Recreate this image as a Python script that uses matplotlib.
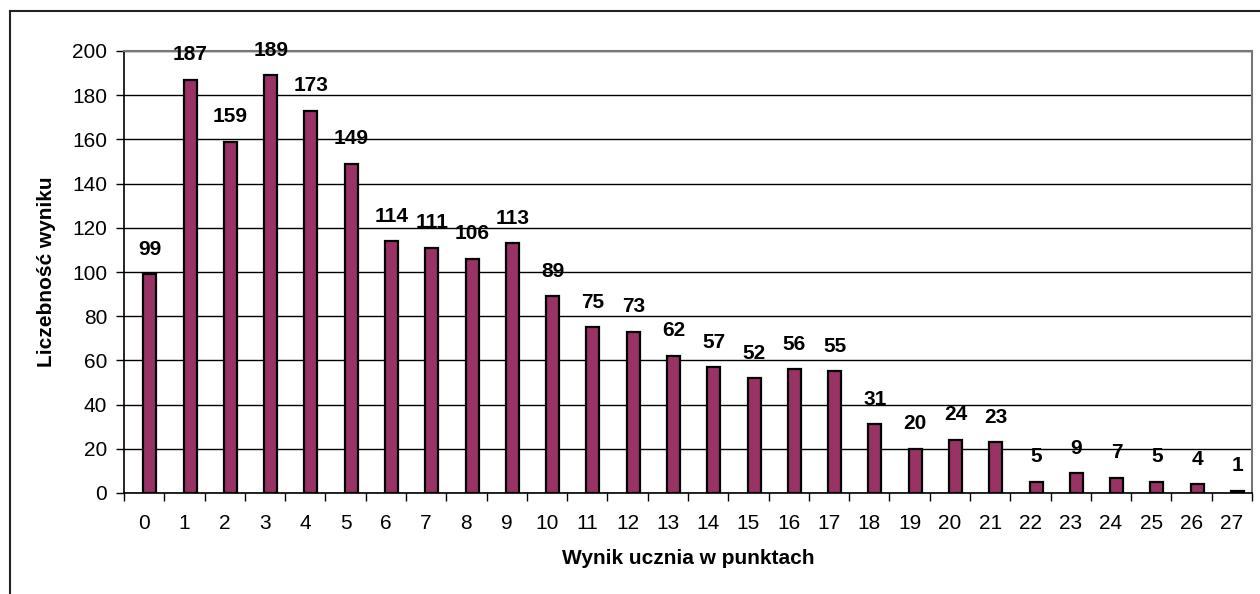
import numpy as np
import matplotlib.pyplot as plt
from matplotlib.lines import Line2D

plt.rcParams['font.family'] = ['Liberation Sans', 'DejaVu Sans']

wyniki = list(range(28))
liczebnosc = [99, 187, 159, 189, 173, 149, 114, 111, 106, 113, 89, 75, 73, 62,
              57, 52, 56, 55, 31, 20, 24, 23, 5, 9, 7, 5, 4, 1]
y_ticks = list(range(0, 201, 20))

W, H = 1260, 594
fig = plt.figure(figsize=(12.6, 5.94), dpi=100)

# outer chart frame (cropped at right and bottom)
fig.add_artist(Line2D([10 / W, 1.0], [1 - 11 / H, 1 - 11 / H], color='#222222', lw=1.5))
fig.add_artist(Line2D([10 / W, 10 / W], [0, 1 - 11 / H], color='#222222', lw=1.5))

ax = fig.add_axes([124 / W, (H - 493) / H, 1128 / W, 442 / H])

x = np.array(wyniki)
ax.bar(x + 0.14, liczebnosc, width=0.32, color='#993366', edgecolor='black',
       linewidth=1.6, zorder=3)

for xi, v in zip(x, liczebnosc):
    ax.annotate(str(v), (xi + 0.14, v), xytext=(0, 18), textcoords='offset points',
                ha='center', va='center', fontsize=15, fontweight='bold', zorder=4)

ax.set_xlim(-0.5, 27.5)
ax.set_ylim(0, 200)
ax.set_yticks(y_ticks)
ax.yaxis.grid(True, color='black', linewidth=1)
ax.set_axisbelow(True)

ax.set_xticks(x)
ax.set_xticklabels([str(i) for i in wyniki])
ax.set_xticks(np.arange(-0.5, 28, 1), minor=True)
ax.tick_params(axis='x', which='major', length=0, pad=15, labelsize=15)
ax.tick_params(axis='x', which='minor', length=6, width=1, direction='out', color='black')
ax.tick_params(axis='y', length=6, width=1, direction='out', pad=6, labelsize=15)

for s in ['left', 'bottom']:
    ax.spines[s].set_color('black')
    ax.spines[s].set_linewidth(1.2)
for s in ['top', 'right']:
    ax.spines[s].set_color('#777777')
    ax.spines[s].set_linewidth(1.5)

ax.set_xlabel('Wynik ucznia w punktach', fontsize=15, fontweight='bold', labelpad=12)
ax.set_ylabel('Liczebność wyniku', fontsize=15, fontweight='bold', labelpad=12)

fig.savefig('out.png', dpi=100)
